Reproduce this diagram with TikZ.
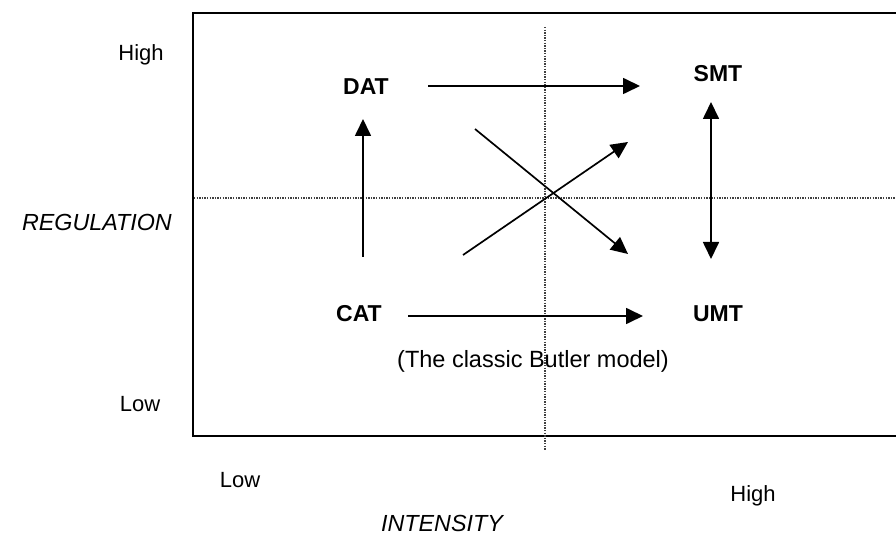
\documentclass[tikz,border=0pt]{standalone}
\usepackage{fontspec}
\setmainfont{Liberation Sans}
\usetikzlibrary{arrows.meta}
\begin{document}
\begin{tikzpicture}[x=1pt,y=-1pt,
  lbl/.style={anchor=base, inner sep=0pt, font=\fontsize{22}{26}\selectfont},
  axislbl/.style={inner sep=0pt, font=\fontsize{23.3}{27}\selectfont\itshape},
  stage/.style={anchor=base, inner sep=0pt, font=\fontsize{23}{27}\selectfont\bfseries},
  note/.style={anchor=base, inner sep=0pt, font=\fontsize{23.5}{27}\selectfont},
  tip/.style={Triangle[length=17pt,width=16pt]},
  link/.style={line width=1.7pt, -{Triangle[length=17pt,width=16pt]}},
  both/.style={line width=1.7pt, {Triangle[length=17pt,width=16pt]}-{Triangle[length=17pt,width=16pt]}},
  guide/.style={line width=1.7pt, black!75, dash pattern=on 1.4pt off 1.2pt},
  frame/.style={line width=2.2pt}]
\useasboundingbox (0,0) rectangle (896,534);

% quadrant frame and dividing guides
\draw[frame] (898,13) -- (193,13) -- (193,436) -- (898,436);
\draw[guide] (545,27) -- (545,450);
\draw[guide] (194,198) -- (896,198);

% axis labels
\node[lbl] (rhigh) at (141,61) {High};
\node[lbl] (rlow) at (140,411) {Low};
\node[axislbl, anchor=base east] (reg) at (172,231) {REGULATION};
\node[lbl] (ilow) at (240,487) {Low};
\node[lbl] (ihigh) at (753,501) {High};
\node[axislbl, anchor=base] (int) at (442,531) {INTENSITY};

% stages
\node[stage] (dat) at (366,95) {DAT};
\node[stage] (smt) at (718,82) {SMT};
\node[stage] (cat) at (359,322) {CAT};
\node[stage] (umt) at (718,322) {UMT};
\node[note] (butler) at (533,367) {(The classic Butler model)};

% connector end points
\coordinate (datR) at (428,86);
\coordinate (smtL) at (640,86);
\coordinate (catR) at (408,316);
\coordinate (umtL) at (643,316);
\coordinate (catUp) at (363,257);
\coordinate (datDn) at (363,119);
\coordinate (smtDn) at (711,102);
\coordinate (umtUp) at (711,259);
\coordinate (dA) at (475,129);
\coordinate (dB) at (628,254);
\coordinate (dC) at (463,255);
\coordinate (dD) at (628,142);

% transitions
\draw[link] (datR) -- (smtL);
\draw[link] (catR) -- (umtL);
\draw[link] (catUp) -- (datDn);
\draw[both] (smtDn) -- (umtUp);
\draw[link] (dA) -- (dB);
\draw[link] (dC) -- (dD);
\end{tikzpicture}
\end{document}
